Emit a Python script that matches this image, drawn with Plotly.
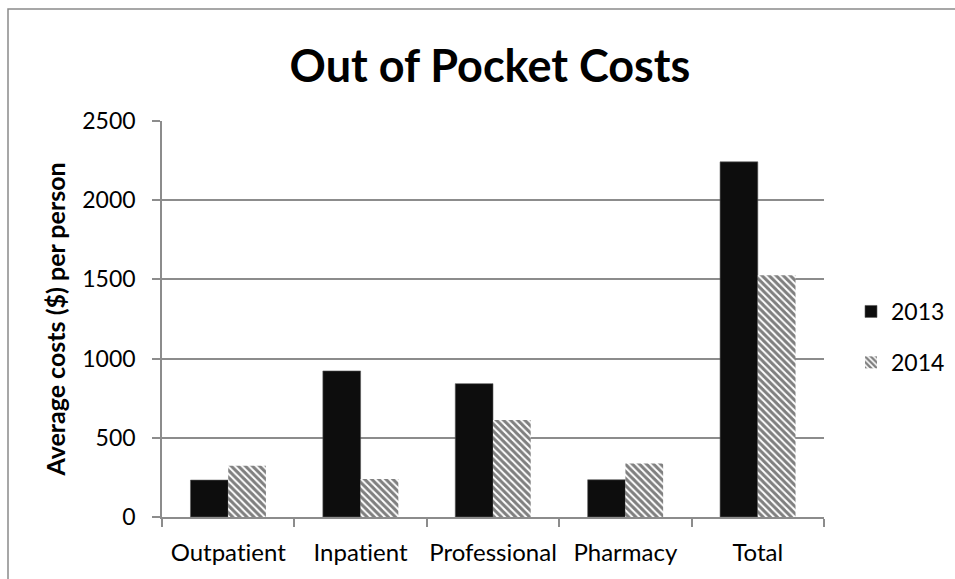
import plotly.graph_objects as go

# Average out-of-pocket cost per person, by service category
# (a zero-width non-joiner keeps the "ti" pair from fusing into a ligature)
categories = ["Outpat\u200cient", "Inpat\u200cient", "Professional", "Pharmacy", "Total"]
costs_2013 = [233, 922, 842, 235, 2242]
costs_2014 = [323, 240, 613, 338, 1526]
y_ticks = [0, 500, 1000, 1500, 2000, 2500]

FONT = "Lato, 'Open Sans', sans-serif"
GRID = "#8c8c8c"

W, H = 955, 579
L, R, T, B = 162, 131, 121, 62
pw, ph = W - L - R, H - T - B

fig = go.Figure()
fig.add_trace(go.Bar(
    x=categories, y=costs_2013, name="2013",
    marker=dict(color="#0d0d0d", line=dict(color="#5a5a5a", width=0.6)),
    legendgroup="a",
))
fig.add_trace(go.Bar(
    x=categories, y=costs_2014, name="2014",
    marker=dict(
        color="white",
        line=dict(width=0),
        pattern=dict(shape="\\", fgcolor="#000000", bgcolor="white",
                     size=5, solidity=0.6, fillmode="overlay"),
    ),
    legendgroup="b",
))

# outer chart frame (continues past the right and bottom edges)
fig.add_shape(
    type="rect", xref="paper", yref="paper",
    x0=(8 - L) / pw, x1=(W + 5 - L) / pw,
    y0=-(B + 5) / ph, y1=(H - B - 9) / ph,
    line=dict(color="#8a8a8a", width=1.5), fillcolor="rgba(0,0,0,0)",
    layer="below",
)

fig.update_layout(
    width=W, height=H,
    margin=dict(l=L, r=R, t=T, b=B, pad=0, autoexpand=False),
    paper_bgcolor="white", plot_bgcolor="white",
    font=dict(family=FONT, size=23, color="#000000"),
    title=dict(
        text="<b>Out of Pocket Costs</b>",
        x=490 / W, xanchor="center",
        y=1 - 66 / H, yanchor="middle",
        font=dict(family=FONT, size=45, color="#000000"),
    ),
    barmode="group", bargap=0.43, bargroupgap=0,
    showlegend=True,
    legend=dict(
        x=(851 - L) / pw, xanchor="left",
        y=(H - B - 337) / ph, yanchor="middle",
        font=dict(family=FONT, size=23),
        tracegroupgap=18, itemwidth=30,
        bgcolor="rgba(0,0,0,0)",
    ),
    xaxis=dict(
        type="category", automargin=False,
        showline=True, linecolor=GRID, linewidth=1.5,
        ticks="outside", ticklen=8, tickcolor=GRID, tickwidth=1.5,
        tickson="boundaries", tickangle=0, ticklabelstandoff=13,
        showgrid=False, zeroline=False,
        tickfont=dict(family=FONT, size=24),
    ),
    yaxis=dict(
        range=[0, 2500], tickvals=y_ticks, automargin=False,
        showline=True, linecolor=GRID, linewidth=1.5,
        ticks="outside", ticklen=8, tickcolor=GRID, tickwidth=1.5,
        ticklabelstandoff=12,
        showgrid=True, gridcolor=GRID, gridwidth=1.5,
        zeroline=False,
        tickfont=dict(family=FONT, size=23),
        title=dict(text="<b>Average costs ($) per person</b>",
                   font=dict(family=FONT, size=25), standoff=10),
    ),
)

fig.write_html("out.html")
